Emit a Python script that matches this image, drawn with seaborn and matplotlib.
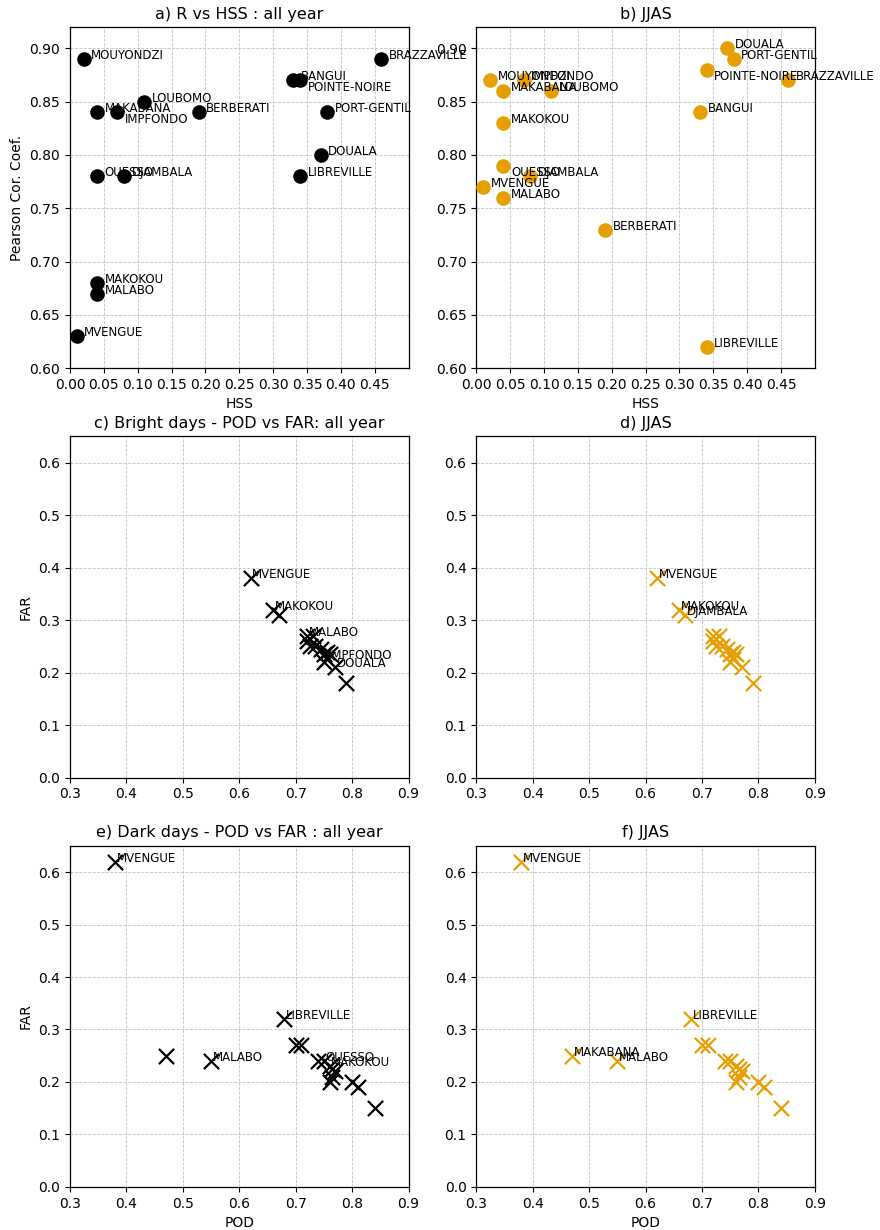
import matplotlib
matplotlib.use("Agg")
import matplotlib.pyplot as plt
import seaborn as sns
import numpy as np
import pandas as pd

# ---------------- data ----------------
names_hss = ["MOUYONDZI", "BRAZZAVILLE", "BANGUI", "POINTE-NOIRE", "LOUBOMO",
             "MAKABANA", "IMPFONDO", "BERBERATI", "PORT-GENTIL", "DOUALA",
             "OUESSO", "DJAMBALA", "LIBREVILLE", "MAKOKOU", "MALABO", "MVENGUE"]
hss_all = [0.02, 0.46, 0.33, 0.34, 0.11, 0.04, 0.07, 0.19, 0.38, 0.37,
           0.04, 0.08, 0.34, 0.04, 0.04, 0.01]
r_all = [0.89, 0.89, 0.87, 0.87, 0.85, 0.84, 0.84, 0.84, 0.84, 0.80,
         0.78, 0.78, 0.78, 0.68, 0.67, 0.63]
hss_jjas = [0.02, 0.46, 0.33, 0.34, 0.11, 0.04, 0.07, 0.19, 0.38, 0.37,
            0.04, 0.08, 0.34, 0.04, 0.04, 0.01]
r_jjas = [0.87, 0.87, 0.84, 0.88, 0.86, 0.86, 0.87, 0.73, 0.89, 0.90,
          0.79, 0.78, 0.62, 0.83, 0.76, 0.77]

names_bright = ["MVENGUE", "MAKOKOU", "DJAMBALA", "MALABO", "LOUBOMO", "MAKABANA",
                "OUESSO", "MOUYONDZI", "BERBERATI", "BANGUI", "PORT-GENTIL",
                "POINTE-NOIRE", "IMPFONDO", "LIBREVILLE", "DOUALA", "BRAZZAVILLE"]
pod_bright_all = [0.62, 0.66, 0.67, 0.72, 0.73, 0.72, 0.725, 0.735, 0.745, 0.755,
                  0.76, 0.75, 0.755, 0.75, 0.77, 0.79]
far_bright_all = [0.38, 0.32, 0.31, 0.27, 0.27, 0.26, 0.25, 0.25, 0.245, 0.24,
                  0.235, 0.235, 0.225, 0.22, 0.21, 0.18]
pod_bright_jjas = [0.62, 0.66, 0.67, 0.72, 0.73, 0.72, 0.725, 0.735, 0.745, 0.755,
                   0.76, 0.75, 0.755, 0.75, 0.77, 0.79]
far_bright_jjas = [0.38, 0.32, 0.31, 0.27, 0.27, 0.26, 0.25, 0.25, 0.245, 0.24,
                   0.235, 0.235, 0.225, 0.22, 0.21, 0.18]

names_dark = ["MVENGUE", "MAKABANA", "MALABO", "LIBREVILLE", "DOUALA", "PORT-GENTIL",
              "BANGUI", "OUESSO", "MAKOKOU", "IMPFONDO", "DJAMBALA", "LOUBOMO",
              "BERBERATI", "MOUYONDZI", "POINTE-NOIRE", "BRAZZAVILLE"]
pod_dark_all = [0.38, 0.47, 0.55, 0.68, 0.70, 0.71, 0.74, 0.75, 0.76, 0.765,
                0.77, 0.765, 0.76, 0.80, 0.81, 0.84]
far_dark_all = [0.62, 0.25, 0.24, 0.32, 0.27, 0.27, 0.24, 0.24, 0.23, 0.225,
                0.22, 0.21, 0.20, 0.20, 0.19, 0.15]
pod_dark_jjas = [0.38, 0.47, 0.55, 0.68, 0.70, 0.71, 0.74, 0.75, 0.76, 0.765,
                 0.77, 0.765, 0.76, 0.80, 0.81, 0.84]
far_dark_jjas = [0.62, 0.25, 0.24, 0.32, 0.27, 0.27, 0.24, 0.24, 0.23, 0.225,
                 0.22, 0.21, 0.20, 0.20, 0.19, 0.15]

labels_c = ["MVENGUE", "MAKOKOU", "MALABO", "IMPFONDO", "DOUALA"]
labels_d = ["MVENGUE", "MAKOKOU", "DJAMBALA"]
labels_e = ["MVENGUE", "LIBREVILLE", "MALABO", "OUESSO", "MAKOKOU"]
labels_f = ["MVENGUE", "MAKABANA", "MALABO", "LIBREVILLE"]

titles = ["a) R vs HSS : all year", "b) JJAS",
          "c) Bright days - POD vs FAR: all year", "d) JJAS",
          "e) Dark days - POD vs FAR : all year", "f) JJAS"]

# ---------------- style ----------------
sns.set_theme(style="ticks", rc={
    "xtick.labelsize": 10, "ytick.labelsize": 10, "axes.labelsize": 10,
    "xtick.major.size": 3.5, "ytick.major.size": 3.5,
    "xtick.major.width": 0.8, "ytick.major.width": 0.8,
    "xtick.major.pad": 3.5, "ytick.major.pad": 3.5,
    "axes.linewidth": 0.9, "axes.edgecolor": "black",
    "axes.labelcolor": "black", "xtick.color": "black", "ytick.color": "black",
    "text.color": "black", "axes.labelpad": 4.0, "axes.titlepad": 6.0,
})
plt.rcParams["font.family"] = ["DejaVu Sans"]

ORANGE = "#E69F00"

fig, axes = plt.subplots(3, 2, figsize=(8.8, 12.3), dpi=100)
fig.subplots_adjust(left=0.0795, right=0.926, bottom=0.035, top=0.978,
                    wspace=0.2, hspace=0.2)


def style_grid(ax):
    ax.grid(True, linestyle="--", color="#c4c4c4", linewidth=0.6)
    ax.set_axisbelow(True)


# ----- row 1: HSS vs R -----
down_a = {"IMPFONDO", "POINTE-NOIRE"}
down_b = {"POINTE-NOIRE", "OUESSO"}
for ax, hx, ry, col, title, down in [
        (axes[0, 0], hss_all, r_all, "black", titles[0], down_a),
        (axes[0, 1], hss_jjas, r_jjas, ORANGE, titles[1], down_b)]:
    df = pd.DataFrame({"HSS": hx, "R": ry, "name": names_hss})
    sns.scatterplot(data=df, x="HSS", y="R", color=col, s=110, linewidth=0,
                    marker="o", ax=ax, zorder=3)
    for _, row in df.iterrows():
        off = (5.5, -7.5) if row["name"] in down else (5.5, 0)
        ax.annotate(row["name"], (row["HSS"], row["R"]), xytext=off,
                    textcoords="offset points", fontsize=8.5, color="black",
                    annotation_clip=False, zorder=4)
    ax.set_xlim(0, 0.5)
    ax.set_ylim(0.6, 0.92)
    ax.set_xticks(np.arange(0, 0.451, 0.05))
    ax.set_xticklabels([f"{v:.2f}" for v in np.arange(0, 0.451, 0.05)])
    ax.set_yticks(np.arange(0.6, 0.901, 0.05))
    ax.set_yticklabels([f"{v:.2f}" for v in np.arange(0.6, 0.901, 0.05)])
    ax.set_xlabel("HSS")
    ax.set_ylabel("")
    ax.set_title(title, fontsize=11.5)
    style_grid(ax)
axes[0, 0].set_ylabel("Pearson Cor. Coef.")

# ----- rows 2 & 3: POD vs FAR -----
panels = [
    (axes[1, 0], names_bright, pod_bright_all, far_bright_all, "black", titles[2], labels_c),
    (axes[1, 1], names_bright, pod_bright_jjas, far_bright_jjas, ORANGE, titles[3], labels_d),
    (axes[2, 0], names_dark, pod_dark_all, far_dark_all, "black", titles[4], labels_e),
    (axes[2, 1], names_dark, pod_dark_jjas, far_dark_jjas, ORANGE, titles[5], labels_f),
]
for ax, nm, pod, far, col, title, labs in panels:
    df = pd.DataFrame({"POD": pod, "FAR": far, "name": nm})
    sns.scatterplot(data=df, x="POD", y="FAR", color=col, s=120, marker="x",
                    linewidth=1.6, ax=ax, zorder=3)
    for _, row in df.iterrows():
        if row["name"] in labs:
            ax.annotate(row["name"], (row["POD"], row["FAR"]), xytext=(1.2, 0),
                        textcoords="offset points", fontsize=8.5, color="black",
                        annotation_clip=False, zorder=4)
    ax.set_xlim(0.3, 0.9)
    ax.set_ylim(0, 0.65)
    ax.set_xticks(np.arange(0.3, 0.91, 0.1))
    ax.set_xticklabels([f"{v:.1f}" for v in np.arange(0.3, 0.91, 0.1)])
    ax.set_yticks(np.arange(0, 0.61, 0.1))
    ax.set_yticklabels([f"{v:.1f}" for v in np.arange(0, 0.61, 0.1)])
    ax.set_xlabel("")
    ax.set_ylabel("")
    ax.set_title(title, fontsize=11.5)
    style_grid(ax)

axes[1, 0].set_ylabel("FAR")
axes[2, 0].set_ylabel("FAR")
axes[2, 0].set_xlabel("POD")
axes[2, 1].set_xlabel("POD")

fig.savefig("out.png", dpi=100)
